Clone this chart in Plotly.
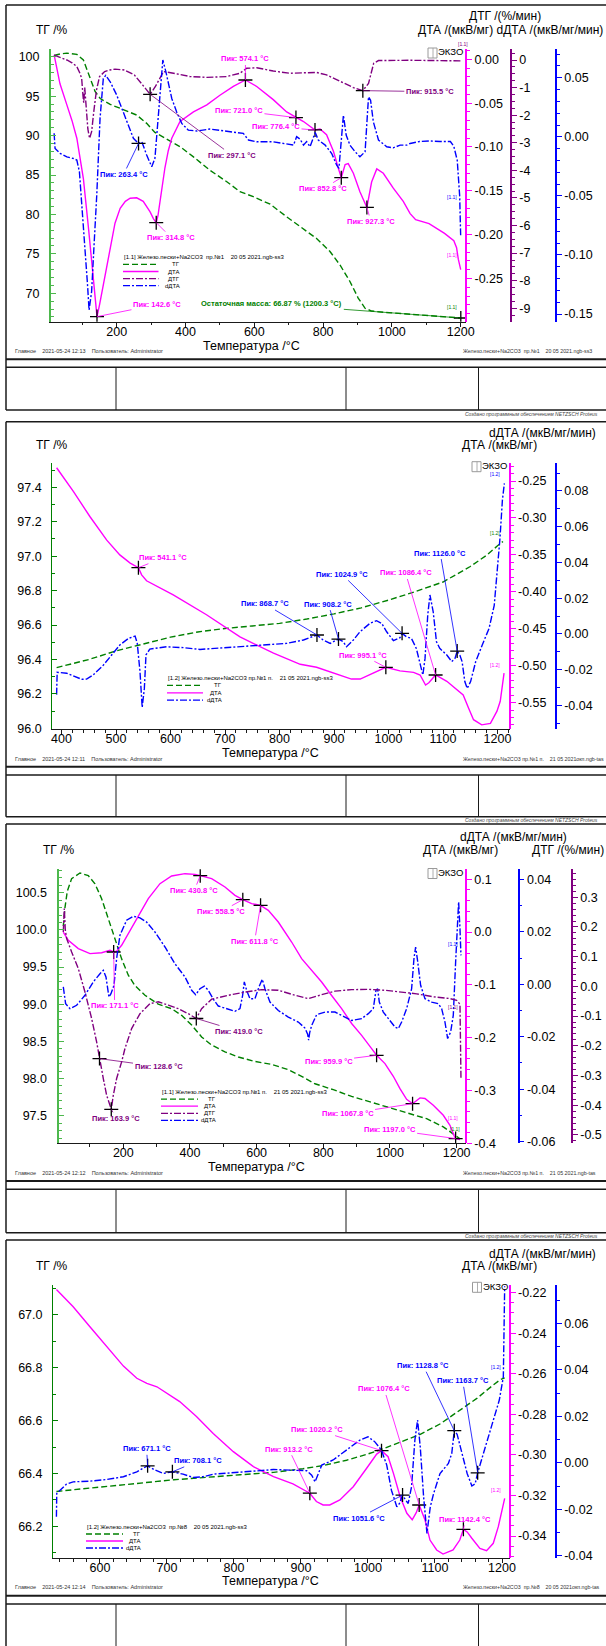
import numpy as np
import plotly.graph_objects as go

FONT = "Liberation Sans, Arial, Helvetica, sans-serif"
W, H = 606, 1646

GREEN = "#008000"
GREEN_AX = "#4db84d"
MAGENTA = "#ff00ff"
PURPLE = "#800080"
BLUE = "#0000ff"
INK = "#1a1a1a"
DASH_TG = "6px,3px"
DASH_DOT = "7px,2px,2px,2px"

# ---------------------------------------------------------------- data
# Panel 1 : [1.1] 20 05 2021, 20-1200 °C  (temperature °C, value)
p1_tg = [(18, 100.15), (35, 100.35), (55, 100.45), (84, 100.3), (103, 99.6), (122, 97.3),
         (137, 95.6), (152, 94.7), (181, 93.95), (219, 93.3), (258, 92.6), (287, 91.55),
         (311, 90.4), (345, 89.55), (384, 88.6), (423, 87.3), (471, 85.6), (520, 84.15),
         (558, 82.9), (597, 82.25), (646, 81.3), (694, 79.7), (743, 78.2), (781, 76.95),
         (820, 75.3), (849, 73.6), (878, 71.5), (902, 69.4), (922, 68.1), (941, 67.75),
         (975, 67.6), (1020, 67.45), (1070, 67.3), (1120, 67.15), (1160, 67.0), (1200.3, 66.87)]
p1_dta = [(18, 0.005), (35, -0.028), (55, -0.052), (70, -0.07), (84, -0.09), (103, -0.136),
          (118, -0.193), (132, -0.25), (142.6, -0.2935), (150, -0.28), (161, -0.257),
          (181, -0.212), (195, -0.187), (210, -0.170), (225, -0.162), (239, -0.1585),
          (258, -0.158), (277, -0.162), (297, -0.174), (307, -0.182), (314.8, -0.1863),
          (320, -0.178), (326, -0.162), (333, -0.142), (340, -0.124), (350, -0.104),
          (360, -0.09), (384, -0.071), (423, -0.06), (462, -0.052), (500, -0.041),
          (539, -0.031), (574.1, -0.0236), (607, -0.031), (655, -0.046), (694, -0.06),
          (721.0, -0.0665), (743, -0.071), (776.4, -0.0806), (791, -0.0795), (810, -0.086),
          (830, -0.105), (844, -0.124), (852.8, -0.135), (864, -0.12), (873, -0.119),
          (888, -0.13), (907, -0.151), (927.3, -0.169), (941, -0.14), (956, -0.125),
          (975, -0.13), (1004, -0.147), (1033, -0.162), (1053, -0.176), (1069, -0.183),
          (1108, -0.1875), (1153, -0.1985), (1180, -0.207), (1188, -0.215), (1193, -0.228),
          (1200, -0.24)]
p1_dtg = [(18, 0.18), (40, 0.08), (55, 0.0), (70, -0.1), (84, -0.24), (92, -0.45), (98, -0.66),
          (102, -1.3), (104, -1.55), (107, -1.0), (111, -1.7), (116, -2.5), (121, -2.84),
          (127, -2.6), (133, -1.9), (141, -1.1), (150, -0.6), (165, -0.42), (180, -0.36),
          (195, -0.33), (222, -0.36), (251, -0.54), (275, -0.9), (290, -1.12), (297.1, -1.244),
          (312, -0.97), (325, -0.65), (336, -0.42), (365, -0.48), (413, -0.6), (462, -0.63),
          (520, -0.6), (558, -0.48), (578, -0.3), (607, -0.28), (655, -0.4), (703, -0.48),
          (752, -0.46), (781, -0.45), (810, -0.54), (849, -0.76), (888, -1.0), (915.5, -1.11),
          (932, -0.85), (947, -0.12), (961, -0.02), (1053, -0.01), (1150, -0.02), (1200, -0.03)]
p1_ddta = [(18, 0.003), (20.7, -0.0098), (35, -0.014), (55, -0.017), (74, -0.0183), (84, -0.0197),
           (91.5, -0.0295), (98, -0.055), (108, -0.092), (115, -0.125), (119.6, -0.1466),
           (127, -0.131), (134, -0.092), (142, -0.049), (151.5, 0.0156), (161, 0.0494),
           (168, 0.052), (181, 0.0466), (200, 0.0353), (229, 0.0128), (248.5, -0.0013),
           (263.4, -0.0056), (273, -0.0042), (287, -0.0154), (301.7, -0.0253), (311, -0.0183),
           (321, 0.0212), (334, 0.065), (343, 0.055), (360, 0.0325), (374, 0.0212), (389, 0.0114),
           (408, 0.0057), (433, 0.0049), (471, 0.0066), (510, 0.0049), (539, 0.0037),
           (568, 0.0029), (583, -0.0027), (607, -0.0042), (655, -0.0042), (694, -0.0061),
           (714, -0.007), (723, 0.0001), (733, -0.002), (743, -0.007), (752, -0.004),
           (762, -0.0084), (777, 0.0037), (786, -0.0027), (806, -0.007), (825, -0.0141),
           (839.5, -0.024), (846, -0.0267), (854, 0.0043), (859, 0.0184), (867, 0.0015),
           (878, -0.007), (893, -0.0126), (907, -0.0169), (922, -0.0126), (932, 0.0339),
           (938, 0.031), (946, 0.0128), (961, -0.0027), (985, -0.0084), (1004, -0.0093),
           (1024, -0.007), (1043, -0.007), (1053, -0.0056), (1080, -0.004), (1110, -0.0035),
           (1140, -0.004), (1170, -0.004), (1180, -0.008), (1190, -0.02), (1197, -0.05),
           (1200, -0.085)]
p1_dta_peaks = [142.6, 314.8, 574.1, 721.0, 776.4, 852.8, 927.3]
p1_dtg_peaks = [297.1, 915.5]
p1_ddta_peaks = [263.4]
p1_residual = (1200.3, 66.87)

# Panel 2 : [1.2] 21 05 2021, 390-1210 °C
p2_tg = [(391, 96.353), (450, 96.40), (500, 96.45), (550, 96.49), (600, 96.53), (650, 96.56),
         (700, 96.58), (750, 96.595), (800, 96.61), (850, 96.635), (900, 96.665), (950, 96.70),
         (1000, 96.745), (1050, 96.795), (1100, 96.85), (1150, 96.94), (1180, 97.005),
         (1200, 97.06), (1210, 97.085)]
p2_dta = [(391, -0.232), (422, -0.2644), (452, -0.298), (483, -0.33), (507, -0.35), (526, -0.361),
          (541.1, -0.3673), (547, -0.377), (556, -0.385), (605, -0.404), (666, -0.431),
          (727.5, -0.461), (789, -0.483), (838, -0.498), (868, -0.502), (893, -0.508),
          (911, -0.5125), (932, -0.518), (948, -0.518), (972, -0.510), (995.1, -0.5021),
          (1021, -0.507), (1046, -0.509), (1058, -0.5125), (1063, -0.52), (1068, -0.526),
          (1074, -0.523), (1086.4, -0.5125), (1107, -0.521), (1125, -0.532), (1137, -0.5395),
          (1147, -0.5575), (1156, -0.573), (1171, -0.580), (1187, -0.578), (1199, -0.5615),
          (1205, -0.548), (1212, -0.51)]
p2_ddta = [(391, -0.034), (392, -0.0215), (409.5, -0.022), (422, -0.0234), (437, -0.0254),
           (446, -0.0253), (458, -0.023), (477, -0.0174), (492, -0.0118), (507, -0.0062),
           (523, -0.0025), (535, -0.0012), (539, -0.0053), (544, -0.0212), (548, -0.0411),
           (552, -0.0305), (555, -0.0118), (562, -0.0085), (593, -0.0072), (623.5, -0.0077),
           (654, -0.0087), (685, -0.0081), (727.5, -0.0072), (776, -0.0062), (813, -0.0053),
           (844, -0.0034), (868.7, -0.0006), (880, -0.0034), (893, -0.0053), (908.2, -0.0029),
           (917, -0.0044), (923, -0.0072), (935.5, -0.0034), (947.6, 0.0012), (966, 0.0059),
           (978, 0.0074), (987.5, 0.0059), (996.6, 0.0012), (1009, -0.0038), (1021, -0.0021),
           (1024.9, 0.0003), (1033, -0.0016), (1042, -0.0025), (1051, -0.0081), (1058, -0.0174),
           (1063, -0.023), (1067, -0.0137), (1072, 0.0106), (1076, 0.0218), (1082, 0.0124),
           (1088, -0.0044), (1094, -0.0081), (1107, -0.0118), (1116, -0.0155), (1122, -0.0137),
           (1126.0, -0.0096), (1131, -0.012), (1135, -0.0155), (1140, -0.0267), (1144.5, -0.0305),
           (1150.6, -0.0267), (1160, -0.0155), (1172, -0.0062), (1184.5, 0.0031), (1194, 0.016),
           (1200, 0.0366), (1204.5, 0.0534), (1209, 0.075), (1212.6, 0.0843)]
p2_dta_peaks = [541.1, 995.1, 1086.4]
p2_ddta_peaks = [868.7, 908.2, 1024.9, 1126.0]

# Panel 3 : [1.1] 21 05 2021, 20-1210 °C
p3_tg = [(20, 100.05), (25, 100.3), (32, 100.52), (45, 100.69), (70, 100.765), (95, 100.73),
         (115, 100.62), (135, 100.42), (155, 100.15), (175, 99.88), (195, 99.61), (215, 99.39),
         (235, 99.25), (265, 99.12), (305, 99.0), (345, 98.94), (375, 98.85), (405, 98.72),
         (435, 98.56), (465, 98.45), (505, 98.36), (545, 98.29), (595, 98.23), (645, 98.19),
         (695, 98.12), (735, 98.03), (775, 97.93), (830, 97.85), (885, 97.76), (945, 97.68),
         (1005, 97.6), (1045, 97.55), (1110, 97.46), (1160, 97.35), (1190, 97.26), (1210, 97.19)]
p3_dta = [(20, 0.0), (35, -0.0155), (65, -0.0313), (100, -0.0408), (135, -0.039), (160, -0.0345),
          (171.1, -0.0376), (180, -0.036), (195, -0.025), (215, -0.003), (245, 0.0318),
          (275, 0.0634), (310, 0.0918), (345, 0.1063), (385, 0.1107), (415, 0.1095),
          (430.8, 0.107), (465, 0.1013), (505, 0.0855), (535, 0.0697), (558.5, 0.0615),
          (585, 0.054), (611.8, 0.0508), (635, 0.0413), (665, 0.0192), (705, -0.0187),
          (735, -0.0503), (765, -0.0724), (795, -0.0944), (825, -0.12), (855, -0.145),
          (885, -0.173), (915, -0.1955), (945, -0.2207), (959.9, -0.2333), (985, -0.249),
          (1010, -0.273), (1030, -0.2965), (1050, -0.3167), (1067.8, -0.325), (1080, -0.318),
          (1090, -0.314), (1105, -0.315), (1130, -0.328), (1160, -0.347), (1180, -0.366),
          (1192, -0.385), (1197.0, -0.391), (1210, -0.393)]
p3_ddta = [(20, -0.001), (27, -0.0074), (40, -0.0093), (60, -0.008), (85, -0.0042), (110, 0.0009),
           (130, 0.004), (140, 0.0053), (148, 0.0028), (157, -0.0049), (163, -0.0036),
           (172, -0.0004), (180, 0.0098), (190, 0.0187), (210, 0.0244), (230, 0.0259),
           (250, 0.0253), (270, 0.0237), (295, 0.0199), (325, 0.0142), (355, 0.0078),
           (385, 0.0028), (405, -0.0023), (417, -0.004), (430, -0.0017), (443, -0.0007),
           (455, -0.0023), (470, -0.0057), (485, -0.0083), (510, -0.0093), (535, -0.0103),
           (550, -0.0093), (558, -0.0042), (563, 0.0009), (570, -0.0023), (580, -0.0055),
           (595, -0.0055), (607, -0.001), (617, 0.0019), (625, -0.0017), (640, -0.0068),
           (665, -0.01), (695, -0.0125), (725, -0.0144), (745, -0.0167), (753, -0.019),
           (756, -0.0213), (759, -0.0185), (765, -0.0157), (780, -0.0116), (805, -0.0106),
           (835, -0.0106), (865, -0.0125), (885, -0.0138), (915, -0.0131), (935, -0.0112),
           (950, -0.0093), (958, -0.0023), (963, -0.0017), (968, -0.0068), (980, -0.0106),
           (1000, -0.0138), (1015, -0.0163), (1025, -0.0169), (1035, -0.0144), (1050, -0.0093),
           (1065, -0.0017), (1072, 0.0098), (1077, 0.0142), (1082, 0.0098), (1092, -0.0004),
           (1105, -0.0055), (1125, -0.0068), (1145, -0.0074), (1155, -0.0093), (1165, -0.0144),
           (1173, -0.0207), (1182, -0.0182), (1190, -0.0118), (1197, 0.0085), (1203, 0.0237),
           (1206, 0.0314), (1210, 0.0212), (1213, 0.011)]
p3_dtg = [(20, 0.183), (23, 0.262), (26, 0.19), (30, 0.161), (45, 0.116), (65, 0.06), (85, -0.019),
          (105, -0.108), (120, -0.187), (128.6, -0.243), (140, -0.31), (150, -0.366),
          (163.9, -0.4136), (170, -0.366), (180, -0.31), (195, -0.254), (205, -0.209),
          (225, -0.142), (250, -0.092), (280, -0.058), (305, -0.052), (335, -0.063),
          (365, -0.075), (395, -0.092), (419.0, -0.108), (435, -0.075), (465, -0.043),
          (515, -0.03), (565, -0.019), (615, -0.011), (665, -0.013), (715, -0.03), (755, -0.041),
          (795, -0.028), (835, -0.016), (885, -0.011), (935, -0.01), (985, -0.013),
          (1040, -0.019), (1080, -0.025), (1130, -0.035), (1180, -0.041), (1200, -0.047),
          (1210, -0.06), (1213, -0.31)]
p3_dta_peaks = [171.1, 430.8, 558.5, 611.8, 959.9, 1067.8, 1197.0]
p3_dtg_peaks = [128.6, 163.9, 419.0]

# Panel 4 : [1.2] 20 05 2021, 535-1205 °C
p4_tg = [(535, 66.332), (610, 66.351), (710, 66.376), (809, 66.395), (859, 66.404), (903, 66.418),
         (933, 66.43), (968, 66.45), (998, 66.472), (1023, 66.494), (1048, 66.518),
         (1078, 66.548), (1108, 66.588), (1138, 66.64), (1163, 66.685), (1187, 66.735),
         (1197, 66.754), (1204, 66.762)]
p4_dta = [(535, -0.2184), (560, -0.2269), (585, -0.2368), (610, -0.2466), (635, -0.2562),
          (655, -0.2622), (670, -0.2647), (685, -0.2664), (700, -0.2696), (719, -0.2737),
          (744, -0.2811), (769, -0.2894), (799, -0.2984), (829, -0.3058), (859, -0.3107),
          (888, -0.3143), (913.2, -0.3189), (923, -0.323), (933, -0.3247), (943, -0.3247),
          (958, -0.3222), (978, -0.3157), (998, -0.3066), (1013, -0.2996), (1020.2, -0.2979),
          (1030, -0.3009), (1038, -0.3091), (1048, -0.3206), (1058, -0.3288), (1066, -0.332),
          (1072, -0.3285), (1076.4, -0.3247), (1085, -0.332), (1092.5, -0.342), (1102.5, -0.3469),
          (1112, -0.3489), (1127, -0.3469), (1137, -0.342), (1142.4, -0.3367), (1148, -0.338),
          (1155, -0.3411), (1167, -0.3461), (1177, -0.3472), (1187, -0.3436), (1194.5, -0.3354),
          (1200, -0.328), (1204, -0.3214)]
p4_ddta = [(535, -0.0232), (535.5, -0.0132), (538, -0.0125), (550, -0.0092), (560, -0.0082),
           (585, -0.0079), (610, -0.0072), (635, -0.006), (655, -0.0039), (671.1, -0.0013),
           (682, -0.0031), (694.5, -0.0046), (708.1, -0.0039), (724, -0.0049), (739, -0.0063),
           (754, -0.006), (769, -0.0049), (799, -0.0041), (829, -0.0036), (859, -0.0029),
           (888.5, -0.0031), (908.5, -0.0034), (916, -0.0053), (921, -0.0082), (926, -0.0046),
           (931, -0.001), (948, 0.0012), (968, 0.0055), (988, 0.0098), (1000, 0.0112),
           (1010, 0.0091), (1020, 0.0055), (1028, -0.001), (1035, -0.0118), (1043, -0.0189),
           (1047, -0.0175), (1051.6, -0.0139), (1056, -0.016), (1060, -0.0175), (1065, -0.0103),
           (1070, 0.0098), (1074, 0.0184), (1078, 0.0069), (1083, -0.0146), (1088, -0.0304),
           (1093, -0.0189), (1098, -0.0132), (1107.5, -0.0046), (1120, -0.0003), (1125, 0.004),
           (1128.8, 0.0138), (1133, 0.0123), (1140, 0.004), (1148, -0.0046), (1155, -0.01),
           (1160, -0.009), (1163.7, -0.0043), (1172, 0.004), (1182, 0.014), (1190, 0.0212),
           (1196, 0.027), (1202, 0.037), (1203.5, 0.066), (1204, 0.076)]
p4_dta_peaks = [913.2, 1020.2, 1076.4, 1142.4]
p4_ddta_peaks = [671.1, 708.1, 1051.6, 1128.8, 1163.7]

# ---------------------------------------------------------------- helpers
def fx(px):
    return px / W


def fy(py):
    return 1 - py / H


def unzip(pairs):
    t, v = zip(*pairs)
    return np.array(t, float), np.array(v, float)


fig = go.Figure()
annotations = []
shapes = []


def curve(pairs, xa, ya, color, dash=None, width=1.4):
    t, v = unzip(pairs)
    fig.add_trace(go.Scatter(x=t, y=v, xaxis=xa, yaxis=ya, mode="lines", hoverinfo="skip",
                             line=dict(color=color, width=width, dash=dash)))
    return t, v


def peaks(temps, offsets, tv, xa, ya, color, xref, yref):
    t, v = tv
    ys = [float(np.interp(p, t, v)) for p in temps]
    fig.add_trace(go.Scatter(x=temps, y=ys, xaxis=xa, yaxis=ya, mode="markers", hoverinfo="skip",
                             marker=dict(symbol="cross-thin", size=10,
                                         line=dict(width=1.3, color="black"))))
    for p, y, (dx, dy) in zip(temps, ys, offsets):
        annotations.append(dict(x=p, y=y, xref=xref, yref=yref, text=f"<b>Пик: {p:.1f} °C</b>",
                                showarrow=True, ax=dx, ay=dy, arrowhead=0, arrowwidth=0.8,
                                arrowcolor=color, standoff=0, startstandoff=0,
                                font=dict(family=FONT, size=7.5, color=color)))


def label(px, py, s, size=12, color="black", xanchor="left", yanchor="middle"):
    annotations.append(dict(x=fx(px), y=fy(py), xref="paper", yref="paper", text=s,
                            showarrow=False, xanchor=xanchor, yanchor=yanchor, borderpad=0,
                            font=dict(family=FONT, size=size, color=color)))


def seg(x0, y0, x1, y1, color=INK, width=1.0, dash=None):
    shapes.append(dict(type="line", xref="paper", yref="paper", x0=fx(x0), y0=fy(y0),
                       x1=fx(x1), y1=fy(y1), line=dict(color=color, width=width, dash=dash)))


def x_axis(dom, rng, anchor, vals, minor):
    return dict(domain=[fx(dom[0]), fx(dom[1])], range=list(rng), anchor=anchor,
                tickmode="array", tickvals=vals, ticktext=[str(v) for v in vals],
                ticks="outside", ticklen=4, tickwidth=1, tickcolor=INK, ticklabelstandoff=-6,
                minor=dict(dtick=minor, tick0=0, ticks="outside", ticklen=2.5,
                           tickcolor=INK, tickwidth=1),
                showline=True, linecolor=INK, linewidth=1, showgrid=False, zeroline=False,
                tickfont=dict(family=FONT, size=12.5, color="black"), automargin=False)


def fmt_list(vals, nd):
    return [f"{v + 0.0:.{nd}f}" for v in vals]


def y_main(top, bot, rng, vals, nd, anchor, color, width, minor):
    return dict(domain=[fy(bot), fy(top)], range=list(rng), anchor=anchor, side="left",
                tickmode="array", tickvals=vals, ticktext=fmt_list(vals, nd),
                ticks="inside", ticklen=5, tickwidth=1, tickcolor=color, ticklabelstandoff=7,
                minor=dict(dtick=minor, tick0=0, ticks="inside", ticklen=3,
                           tickcolor=color, tickwidth=1),
                showline=True, linecolor=color, linewidth=width, showgrid=False, zeroline=False,
                tickfont=dict(family=FONT, size=12.5, color="black"), automargin=False)


def y_side(over, pos, rng, vals, nd, color, width, minor):
    return dict(overlaying=over, anchor="free", position=fx(pos), side="right",
                range=list(rng), tickmode="array", tickvals=vals, ticktext=fmt_list(vals, nd),
                ticks="outside", ticklen=5, tickwidth=1, tickcolor=color,
                minor=dict(dtick=minor, tick0=0, ticks="outside", ticklen=3,
                           tickcolor=color, tickwidth=1),
                showline=True, linecolor=color, linewidth=width, showgrid=False, zeroline=False,
                tickfont=dict(family=FONT, size=12.5, color="black"), automargin=False)


layout = dict(width=W, height=H, margin=dict(l=0, r=0, t=0, b=0), paper_bgcolor="white",
              plot_bgcolor="white", showlegend=False, font=dict(family=FONT, color="black"))

# ---------------------------------------------------------------- panel 1
layout["xaxis"] = x_axis((51, 466), (8.9, 1215.4), "y", [200, 400, 600, 800, 1000, 1200], 100)
layout["yaxis"] = y_main(49.3, 321.7, (66.40, 100.94), [70, 75, 80, 85, 90, 95, 100], 0, "x",
                         GREEN_AX, 2, 1)
layout["yaxis2"] = y_side("y", 466, (-0.2993, 0.0114),
                          [0.0, -0.05, -0.10, -0.15, -0.20, -0.25, -0.30], 2, MAGENTA, 2, 0.01)
layout["yaxis3"] = y_side("y", 511, (-9.486, 0.388), list(range(0, -10, -1)), 0, PURPLE, 1.5, 0.25)
layout["yaxis4"] = y_side("y", 556, (-0.1565, 0.0741), [0.05, 0.0, -0.05, -0.10, -0.15], 2,
                          BLUE, 1.5, 0.01)

c1_tg = curve(p1_tg, "x", "y", GREEN, DASH_TG)
c1_dta = curve(p1_dta, "x", "y2", MAGENTA)
c1_dtg = curve(p1_dtg, "x", "y3", PURPLE, DASH_DOT)
c1_ddta = curve(p1_ddta, "x", "y4", BLUE, DASH_DOT)

peaks(p1_dta_peaks, [(60, -12), (15, 15), (0, -21), (-57, -7), (-39, -3), (-18, 11), (4, 14)],
      c1_dta, "x", "y2", MAGENTA, "x", "y2")
peaks(p1_dtg_peaks, [(82, 61), (67, 1)], c1_dtg, "x", "y3", PURPLE, "x", "y3")
peaks(p1_ddta_peaks, [(-15, 31)], c1_ddta, "x", "y4", BLUE, "x", "y4")
fig.add_trace(go.Scatter(x=[p1_residual[0]], y=[p1_residual[1]], xaxis="x", yaxis="y",
                         mode="markers", hoverinfo="skip",
                         marker=dict(symbol="cross-thin", size=10,
                                     line=dict(width=1.3, color="black"))))
annotations.append(dict(x=p1_residual[0], y=p1_residual[1], xref="x", yref="y",
                        text=f"<b>Остаточная масса: {p1_residual[1]:.2f} % ({p1_residual[0]:.1f} °C)</b>",
                        showarrow=True, ax=-189, ay=-14, arrowhead=0, arrowwidth=0.8,
                        arrowcolor=GREEN, standoff=0,
                        font=dict(family=FONT, size=7.5, color=GREEN)))

# ---------------------------------------------------------------- panel 2
layout["xaxis2"] = x_axis((52.2, 509.5), (382.9, 1222), "y5", list(range(400, 1201, 100)), 20)
layout["yaxis5"] = y_main(463.3, 729.3, (95.995, 97.539),
                          [96.0, 96.2, 96.4, 96.6, 96.8, 97.0, 97.2, 97.4], 1, "x2",
                          GREEN, 1, 0.1)
layout["yaxis6"] = y_side("y5", 509.5, (-0.586, -0.226),
                          [-0.25, -0.30, -0.35, -0.40, -0.45, -0.50, -0.55], 2, MAGENTA, 2, 0.01)
layout["yaxis7"] = y_side("y5", 555.9, (-0.0534, 0.0955),
                          [0.08, 0.06, 0.04, 0.02, 0.0, -0.02, -0.04], 2, BLUE, 1.5, 0.01)

c2_tg = curve(p2_tg, "x2", "y5", GREEN, DASH_TG)
c2_dta = curve(p2_dta, "x2", "y6", MAGENTA)
c2_ddta = curve(p2_ddta, "x2", "y7", BLUE, DASH_DOT)
peaks(p2_dta_peaks, [(25, -10), (-23, -12), (-30, -102)], c2_dta, "x2", "y6", MAGENTA, "x2", "y6")
peaks(p2_ddta_peaks, [(-52, -31), (-10, -35), (-60, -59), (-17, -98)], c2_ddta, "x2", "y7",
      BLUE, "x2", "y7")

# ---------------------------------------------------------------- panel 3
layout["xaxis3"] = x_axis((58.5, 465.8), (5.6, 1227.5), "y8", [200, 400, 600, 800, 1000, 1200], 100)
layout["yaxis8"] = y_main(869.3, 1143.3, (97.129, 100.815),
                          [97.5, 98.0, 98.5, 99.0, 99.5, 100.0, 100.5], 1, "x3", GREEN_AX, 2, 0.1)
layout["yaxis9"] = y_side("y8", 465.8, (-0.4, 0.119), [0.1, 0.0, -0.1, -0.2, -0.3, -0.4], 1,
                          MAGENTA, 2, 0.02)
layout["yaxis10"] = y_side("y8", 518.7, (-0.0606, 0.0438), [0.04, 0.02, 0.0, -0.02, -0.04, -0.06],
                           2, BLUE, 1.5, 0.01)
layout["yaxis11"] = y_side("y8", 572, (-0.528, 0.394),
                           [0.3, 0.2, 0.1, 0.0, -0.1, -0.2, -0.3, -0.4, -0.5], 1, PURPLE, 1.5, 0.02)

c3_tg = curve(p3_tg, "x3", "y8", GREEN, DASH_TG)
c3_dta = curve(p3_dta, "x3", "y9", MAGENTA)
c3_ddta = curve(p3_ddta, "x3", "y10", BLUE, DASH_DOT)
c3_dtg = curve(p3_dtg, "x3", "y11", PURPLE, DASH_DOT)
peaks(p3_dta_peaks, [(1, 54), (-6, 15), (-22, 12), (-6, 36), (-48, 6), (-65, 10), (-66, -9)],
      c3_dta, "x3", "y9", MAGENTA, "x3", "y9")
peaks(p3_dtg_peaks, [(59, 8), (5, 9), (43, 13)], c3_dtg, "x3", "y11", PURPLE, "x3", "y11")

# ---------------------------------------------------------------- panel 4
layout["xaxis4"] = x_axis((53, 509.5), (529.9, 1211.2), "y12", list(range(600, 1201, 100)), 20)
layout["yaxis12"] = y_main(1285, 1558.3, (66.079, 67.113), [66.2, 66.4, 66.6, 66.8, 67.0], 1,
                           "x4", GREEN, 1, 0.1)
layout["yaxis13"] = y_side("y12", 509.5, (-0.351, -0.2162),
                           [-0.22, -0.24, -0.26, -0.28, -0.30, -0.32, -0.34], 2, MAGENTA, 2, 0.005)
layout["yaxis14"] = y_side("y12", 555.9, (-0.0411, 0.0765), [0.06, 0.04, 0.02, 0.0, -0.02, -0.04],
                           2, BLUE, 1.5, 0.01)

c4_tg = curve(p4_tg, "x4", "y12", GREEN, DASH_TG)
c4_dta = curve(p4_dta, "x4", "y13", MAGENTA)
c4_ddta = curve(p4_ddta, "x4", "y14", BLUE, DASH_DOT)
peaks(p4_dta_peaks, [(-21, -44), (-65, -21), (-35, -116), (2, -10)], c4_dta, "x4", "y13",
      MAGENTA, "x4", "y13")
peaks(p4_ddta_peaks, [(-1, -17), (26, -11), (-44, 23), (-31, -65), (-15, -92)], c4_ddta, "x4",
      "y14", BLUE, "x4", "y14")

# ---------------------------------------------------------------- titles
label(35, 30, "ТГ /%")
label(505, 16.5, "ДТГ /(%/мин)", xanchor="center")
label(510, 30, "ДТА /(мкВ/мг) dДТА /(мкВ/мг/мин)", xanchor="center")
label(251, 346, "Температура /°C", size=12.5, xanchor="center")

label(35, 445, "ТГ /%")
label(542, 433, "dДТА /(мкВ/мг/мин)", xanchor="center")
label(499.5, 445, "ДТА /(мкВ/мг)", xanchor="center")
label(270, 753, "Температура /°C", size=12.5, xanchor="center")

label(42, 850, "ТГ /%")
label(513, 836.7, "dДТА /(мкВ/мг/мин)", xanchor="center")
label(460.5, 850, "ДТА /(мкВ/мг)", xanchor="center")
label(568, 850, "ДТГ /(%/мин)", xanchor="center")
label(256, 1167, "Температура /°C", size=12.5, xanchor="center")

label(35, 1266, "ТГ /%")
label(542, 1254, "dДТА /(мкВ/мг/мин)", xanchor="center")
label(499.5, 1266, "ДТА /(мкВ/мг)", xanchor="center")
label(270, 1581, "Температура /°C", size=12.5, xanchor="center")

# ---------------------------------------------------------------- exo markers
for bx, by in [(428, 53), (472, 466.7), (428, 873.5), (472.5, 1287.3)]:
    shapes.append(dict(type="rect", xref="paper", yref="paper", x0=fx(bx), x1=fx(bx + 9),
                       y0=fy(by + 5), y1=fy(by - 5), line=dict(color="#9a9a9a", width=1)))
    seg(bx + 5, by - 5, bx + 5, by + 5, "#9a9a9a", 0.8)
    label(bx + 9, by - 1, "ЭКЗО", size=9.5)

# ---------------------------------------------------------------- legends
legend_rows = {
    "ТГ": (GREEN, DASH_TG),
    "ДТА": (MAGENTA, None),
    "ДТГ": (PURPLE, DASH_DOT),
    "dДТА": (BLUE, DASH_DOT),
}
legends = [
    (123, 158.5, 181, 257.3, 7.1, "[1.1] Железо.пески+Na2CO3  пр.№1    20 05 2021.ngb-ss3",
     ["ТГ", "ДТА", "ДТГ", "dДТА"]),
    (167, 203, 223, 678, 7.4, "[1.2] Железо.пески+Na2CO3 пр.№1 п.    21 05 2021.ngb-ss3",
     ["ТГ", "ДТА", "dДТА"]),
    (161, 198, 217, 1092, 7.1, "[1.1] Железо.пески+Na2CO3 пр.№1 п.    21 05 2021.ngb-ss3",
     ["ТГ", "ДТА", "ДТГ", "dДТА"]),
    (86, 123, 142, 1527, 7.0, "[1.2] Железо.пески+Na2CO3  пр.№8    20 05 2021.ngb-ss3",
     ["ТГ", "ДТА", "dДТА"]),
]
for lx0, lx1, tx, ly, step, head, rows in legends:
    label(lx0, ly, head, size=6)
    for i, name in enumerate(rows):
        yy = ly + step * (i + 1)
        col, dash = legend_rows[name]
        seg(lx0, yy, lx1, yy, col, 1.3, dash)
        label(tx, yy, name, size=6, xanchor="right")

# ---------------------------------------------------------------- run tags at curve ends
tags = [
    (463, 44.5, "[1.1]", PURPLE), (452, 196.7, "[1.1]", BLUE), (451.5, 255, "[1.1]", MAGENTA),
    (452, 306.7, "[1.1]", GREEN),
    (495, 474, "[1.2]", BLUE), (495, 532.7, "[1.2]", GREEN), (495, 665, "[1.2]", MAGENTA),
    (453, 944, "[1.1]", BLUE), (453, 1007, "[1.1]", PURPLE), (453, 1118, "[1.1]", MAGENTA),
    (455, 1129, "[1.1]", GREEN),
    (496, 1367, "[1.2]", BLUE), (496, 1490, "[1.2]", MAGENTA),
]
for tx, ty, s, col in tags:
    label(tx, ty, s, size=5, color=col, xanchor="center")

# ---------------------------------------------------------------- report frames
frames = [
    (5, 359.3, 367.3, 410, 350.7, 414, "2021-05-24 12:13",
     "Железо.пески+Na2CO3  пр.№1    20 05 2021.ngb-ss3"),
    (421.7, 766.7, 775, 816.7, 759, 820, "2021-05-24 12:11",
     "Железо.пески+Na2CO3 пр.№1 п.    21 05 2021окп.ngb-tas"),
    (824, 1181, 1189.3, 1232.7, 1172.7, 1236, "2021-05-24 12:12",
     "Железо.пески+Na2CO3 пр.№1 п.    21 05 2021.ngb-tas"),
    (1240, 1595.7, 1604, 1652, 1586.7, None, "2021-05-24 12:14",
     "Железо.пески+Na2CO3  пр.№8    20 05 2021окп.ngb-tas"),
]
for top, l1, l2, bot, foot, made, stamp, fname in frames:
    seg(6, top, 612, top, INK, 1.5)
    seg(6, top, 6, bot, INK, 1.5)
    seg(6, l1, 612, l1, INK, 2)
    seg(6, l2, 612, l2, INK, 1.5)
    seg(6, bot, 612, bot, INK, 1.5)
    for vx in (116, 346, 478.5):
        seg(vx, l2, vx, bot, INK, 1)
    label(13.5, foot, f"Главное    {stamp}    Пользователь: Administrator", size=5.5, color="#333")
    label(462, foot, fname, size=5.3, color="#333")
    if made is not None:
        label(464, made, "<i>Создано программным обеспечением NETZSCH Proteus</i>", size=5,
              color="#444")

layout["annotations"] = annotations
layout["shapes"] = shapes
fig.update_layout(**layout)
fig.write_html("out.html")
